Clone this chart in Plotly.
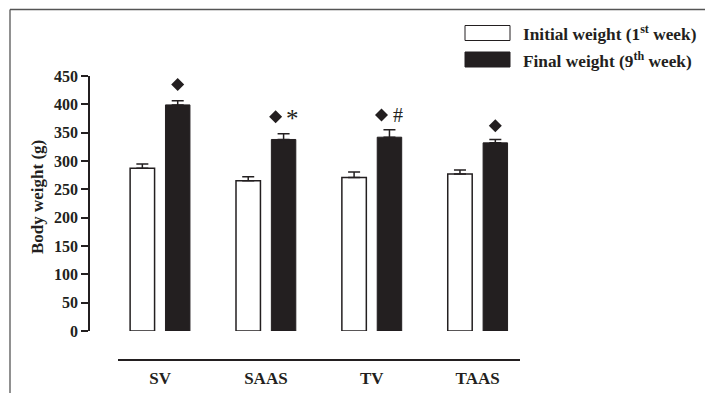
import plotly.graph_objects as go

# ---- data ----
groups = ["SV", "SAAS", "TV", "TAAS"]
initial_weight = [287, 265, 271, 277]
initial_sem = [7.5, 7, 9.5, 7]
final_weight = [399, 338, 342, 332]
final_sem = [7.5, 10, 13, 6]
# significance symbols above the final-weight bars
final_marks = [["◆"], ["◆", "*"], ["◆", "#"], ["◆"]]
mark_height = [435, 378, 381, 362]
y_ticks = [0, 50, 100, 150, 200, 250, 300, 350, 400, 450]

# ---- geometry helpers (pixel -> paper fraction) ----
W, H = 705, 393


def px(x):
    return x / W


def py(y):
    return 1 - y / H


INK = "#231f20"
SERIF = "Liberation Serif"
BAR_W = 0.231
PAIR_SHIFT = 0.167
idx = list(range(len(groups)))

fig = go.Figure()
fig.add_trace(go.Bar(
    x=[i - PAIR_SHIFT for i in idx], y=initial_weight, width=BAR_W,
    marker=dict(color="white", line=dict(color=INK, width=1.5)),
    error_y=dict(type="data", array=initial_sem, arrayminus=[0] * len(idx),
                 symmetric=False, color=INK, thickness=1.5, width=6),
    showlegend=False,
))
fig.add_trace(go.Bar(
    x=[i + PAIR_SHIFT for i in idx], y=final_weight, width=BAR_W,
    marker=dict(color=INK, line=dict(color=INK, width=1)),
    error_y=dict(type="data", array=final_sem, arrayminus=[0] * len(idx),
                 symmetric=False, color=INK, thickness=1.5, width=6),
    showlegend=False,
))

# significance marks: diamonds as markers, other symbols as text
annotations = []
dia_x, dia_y = [], []
for i, marks in enumerate(final_marks):
    xc = i + PAIR_SHIFT
    if len(marks) == 1:
        dia_x.append(xc)
        dia_y.append(mark_height[i])
    else:
        dia_x.append(xc - 0.075)
        dia_y.append(mark_height[i])
        sym = marks[1]
        annotations.append(dict(
            x=xc + 0.085, y=mark_height[i], xref="x", yref="y", text=sym,
            showarrow=False, yanchor="middle", xanchor="center",
            yshift=-2 if sym == "*" else 0,
            font=dict(family=SERIF, size=25 if sym == "*" else 20, color=INK),
        ))
fig.add_trace(go.Scatter(
    x=dia_x, y=dia_y, mode="markers",
    marker=dict(symbol="diamond", size=10, color=INK),
    showlegend=False, cliponaxis=False,
))

# y-axis title
annotations.append(dict(
    x=px(37), y=py(197), xref="paper", yref="paper", text="Body weight (g)",
    textangle=-90, showarrow=False, xanchor="center", yanchor="middle",
    font=dict(family=SERIF, size=17, color=INK, weight="bold"),
))

# legend
legend_items = [("Initial weight (1<sup>st</sup> week)", "white", 33),
                ("Final weight (9<sup>th</sup> week)", INK, 59.5)]
shapes = []
for label, fill, yc in legend_items:
    shapes.append(dict(type="rect", xref="paper", yref="paper",
                       x0=px(465), x1=px(510), y0=py(yc - 7.5), y1=py(yc + 7.5),
                       fillcolor=fill, line=dict(color=INK, width=1)))
    annotations.append(dict(
        x=px(521), y=py(yc), xref="paper", yref="paper", text=label,
        showarrow=False, xanchor="left", yanchor="middle",
        font=dict(family=SERIF, size=17.3, color=INK, weight="bold"),
    ))

# outer frame (top and left edges)
shapes.append(dict(type="line", xref="paper", yref="paper",
                   x0=px(10), x1=1, y0=py(9.5), y1=py(9.5),
                   line=dict(color="#555555", width=1.3)))
shapes.append(dict(type="line", xref="paper", yref="paper",
                   x0=px(10), x1=px(10), y0=py(9.5), y1=0,
                   line=dict(color="#555555", width=1.3)))

fig.update_layout(
    width=W, height=H, margin=dict(l=0, r=0, t=0, b=0),
    paper_bgcolor="white", plot_bgcolor="white",
    barmode="overlay",
    shapes=shapes, annotations=annotations,
    xaxis=dict(
        domain=[px(118), px(520)], anchor="free", position=py(360),
        range=[-0.397, 3.4], tickvals=idx, ticktext=groups,
        showline=True, linecolor=INK, linewidth=1.5, automargin=False,
        ticks="", showgrid=False, zeroline=False, ticklabelstandoff=3,
        tickfont=dict(family=SERIF, size=17, color=INK, weight="bold"),
    ),
    yaxis=dict(
        domain=[py(331), py(76)], anchor="free", position=px(89),
        range=[0, 450], tickvals=y_ticks, automargin=False,
        showline=True, linecolor=INK, linewidth=1.5,
        ticks="outside", ticklen=7, tickwidth=1.5, tickcolor=INK,
        showgrid=False, zeroline=False,
        tickfont=dict(family=SERIF, size=16, color=INK, weight="bold"),
    ),
)

fig.write_html("out.html")
